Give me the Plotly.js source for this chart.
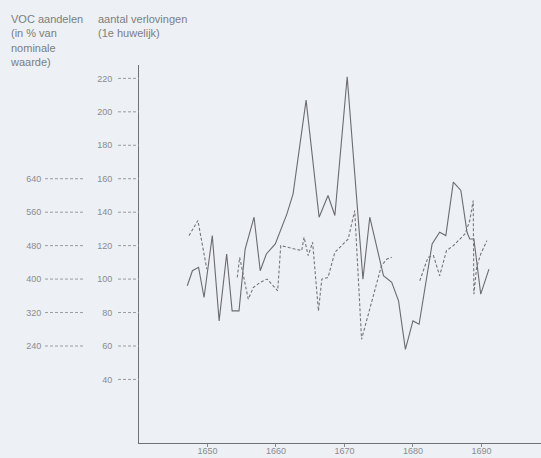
<!DOCTYPE html>
<html>
<head>
<meta charset="utf-8">
<script src="https://cdn.plot.ly/plotly-3.0.1.min.js"></script>
<style>html,body{margin:0;padding:0;background:#edf0f4;}#chart{width:541px;height:458px;}</style>
</head>
<body>
<div id="chart"></div>
<script>
// aantal verlovingen (1e huwelijk) — solid line, read at its vertices
var marriageYears = [1647.05,1647.8,1648.7,1649.5,1650.7,1651.7,1652.8,1653.6,1654.6,1655.5,1656.8,1657.7,1658.6,1659.9,1661.6,1662.5,1664.4,1666.3,1667.6,1668.6,1670.4,1672.7,1673.7,1675.7,1676.9,1677.9,1678.9,1680.0,1680.9,1682.8,1683.9,1684.8,1685.9,1687.0,1687.9,1688.3,1688.9,1689.9,1691.1];
var marriages = [96,105,107,89,126,75,115,81,81,118,137,105,115,121,139,151,207,137,150,138,221,100,137,102,98,87,58,75,73,121,128,126,158,153,128,124,124,91,106];

// VOC aandelen (in % van nominale waarde) — dashed line, null = gap
var vocYears = [1647.3,1648.6,1649.9,1652,1654.35,1654.7,1655.95,1656.7,1657.7,1658.7,1660.25,1660.7,1663.75,1664.1,1664.7,1665.35,1666.2,1666.7,1667.6,1668.6,1670.55,1671.5,1672.5,1674.0,1675.4,1676.2,1676.9,1679,1681.0,1682.2,1683.0,1683.9,1684.9,1685.9,1687.6,1688.3,1688.8,1688.9,1689.3,1689.9,1690.8];
var voc = [504,540,424,null,404,452,352,380,392,400,372,480,468,500,456,488,324,400,404,464,496,564,256,348,432,448,452,null,396,452,456,408,468,480,508,540,588,364,428,460,492];

var countTicks = [40,60,80,100,120,140,160,180,200,220];
var vocTicks = [240,320,400,480,560,640];
var yearTicks = [1650,1660,1670,1680,1690];

var W = 541;
var axisX = 139 / W;
var lineCol = '#6f7175';
var textCol = '#8a8c90';

var traces = [
  {x: marriageYears, y: marriages, type: 'scatter', mode: 'lines',
   line: {color: '#6a6c70', width: 1.1}, xaxis: 'x', yaxis: 'y', hoverinfo: 'none'},
  {x: vocYears, y: voc, type: 'scatter', mode: 'lines', connectgaps: false,
   line: {color: '#74767a', width: 1.1, dash: '3px,2px'}, xaxis: 'x', yaxis: 'y2', hoverinfo: 'none'}
];

var shapes = [];
countTicks.forEach(function (v) {
  shapes.push({type: 'line', xref: 'paper', yref: 'y', x0: 118 / W, x1: axisX, y0: v, y1: v,
    line: {color: '#9a9ca0', width: 1, dash: '3px,2px'}});
});
vocTicks.forEach(function (v) {
  shapes.push({type: 'line', xref: 'paper', yref: 'y2', x0: 45 / W, x1: 85 / W, y0: v, y1: v,
    line: {color: '#9a9ca0', width: 1, dash: '3px,2px'}});
});

var layout = {
  width: 541, height: 458,
  margin: {l: 0, r: 0, t: 65, b: 15},
  paper_bgcolor: '#edf0f4', plot_bgcolor: '#edf0f4',
  showlegend: false,
  font: {family: 'Liberation Sans, Arial, sans-serif', color: textCol},
  xaxis: {domain: [axisX, 1], range: [1640, 1698.7], tickvals: yearTicks,
    ticks: 'outside', ticklen: 3, tickcolor: '#8a8c90', showline: true, linecolor: lineCol, linewidth: 1,
    ticklabelstandoff: -4,
    showgrid: false, zeroline: false, automargin: false, tickfont: {size: 9, color: textCol}},
  yaxis: {range: [2, 228], tickvals: countTicks, ticks: 'outside', ticklen: 24,
    tickcolor: 'rgba(0,0,0,0)', showline: true, linecolor: lineCol, linewidth: 1,
    showgrid: false, zeroline: false, automargin: false, tickfont: {size: 9, color: textCol}},
  yaxis2: {overlaying: 'y', anchor: 'free', position: 85 / W, side: 'left',
    range: [8, 912], tickvals: vocTicks, ticks: 'outside', ticklen: 42,
    tickcolor: 'rgba(0,0,0,0)', showline: false, showgrid: false, zeroline: false,
    automargin: false, tickfont: {size: 9, color: textCol}},
  shapes: shapes,
  annotations: [
    {text: 'VOC aandelen<br>(in % van<br>nominale<br>waarde)', xref: 'paper', yref: 'paper',
     x: 8 / W, y: 1 + 54 / 378, xanchor: 'left', yanchor: 'top', align: 'left', showarrow: false,
     font: {size: 11, color: '#7c7e82'}},
    {text: 'aantal verlovingen<br>(1e huwelijk)', xref: 'paper', yref: 'paper',
     x: 96 / W, y: 1 + 54 / 378, xanchor: 'left', yanchor: 'top', align: 'left', showarrow: false,
     font: {size: 11, color: '#7c7e82'}}
  ]
};

Plotly.newPlot('chart', traces, layout, {staticPlot: true, displayModeBar: false});
</script>
</body>
</html>
